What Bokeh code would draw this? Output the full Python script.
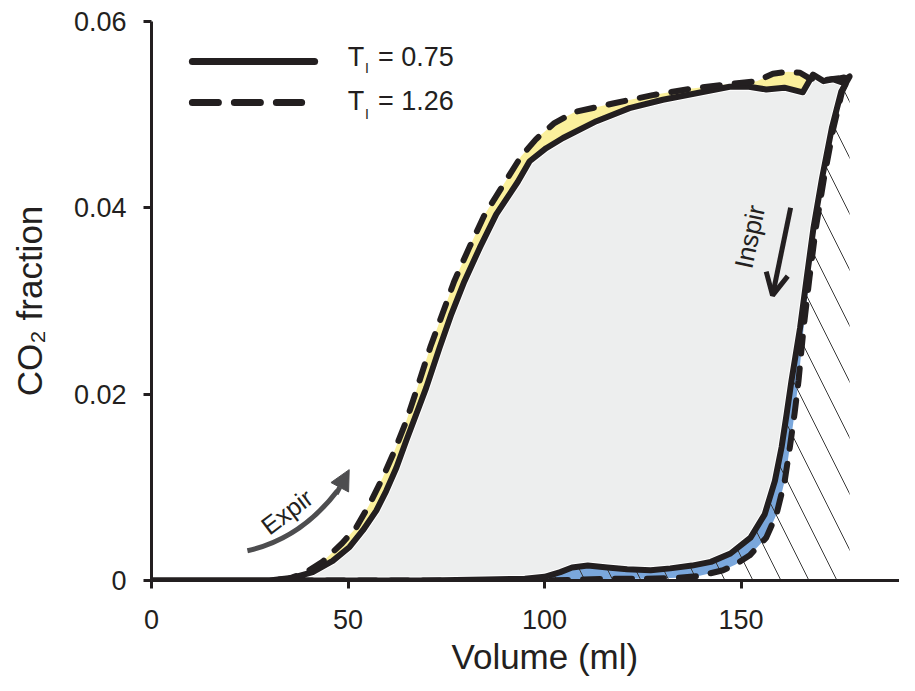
from bokeh.plotting import figure
from bokeh.models import (Range1d, FixedTicker, CustomJSTickFormatter, Label, Title,
                          Arrow, NormalHead, OpenHead)
from bokeh.embed import file_html
from bokeh.resources import INLINE

# ---------------- data ----------------
# T_I = 0.75 (solid) expiratory limb
vol_exp_075 = [0, 10, 20, 30, 36, 41, 46.1, 50.4, 53.8, 57.2, 59.7, 62.3, 64.8, 67.4, 69.9,
               73.3, 76.3, 79.6, 83.5, 87.7, 93.2, 96.2, 100.4, 104.7, 113.2, 121.6, 130.1,
               138.6, 147.1, 152, 156.4, 161, 165.7, 168.3, 171, 173.3, 175.5, 177.6]
co2_exp_075 = [0, 0, 0, 0, 0.0003, 0.0009, 0.0021, 0.0036, 0.0054, 0.0075, 0.0096, 0.0121,
               0.015, 0.0179, 0.0207, 0.025, 0.0286, 0.0321, 0.0357, 0.0393, 0.0428, 0.045,
               0.0464, 0.0475, 0.0493, 0.0507, 0.0516, 0.0523, 0.053, 0.053, 0.0527, 0.0529,
               0.0524, 0.0543, 0.0536, 0.0538, 0.0535, 0.0541]
# T_I = 0.75 (solid) inspiratory limb
vol_insp_075 = [177.6, 175.5, 173.1, 170.6, 168.4, 166.7, 165, 162.8, 161.6, 160.3, 158.6,
                156, 152.4, 147.3, 142.3, 137.5, 132, 127, 121, 116, 111, 107, 104, 100,
                95, 85, 70, 50, 30, 0]
co2_insp_075 = [0.0541, 0.0525, 0.0486, 0.0432, 0.0378, 0.0325, 0.0271, 0.0214, 0.0179,
                0.0143, 0.0107, 0.0071, 0.0046, 0.0029, 0.002, 0.0016, 0.0013, 0.0011,
                0.0012, 0.0014, 0.0016, 0.0014, 0.0009, 0.0004, 0.0002, 0.0001, 0, 0, 0, 0]
# T_I = 1.26 (dashed) expiratory limb
vol_exp_126 = [0, 10, 20, 30, 35, 39, 43.5, 48.5, 52.1, 55.5, 58.9, 61.8, 64.8, 67.4, 70.9,
               74.0, 77.0, 80.8, 84.8, 90.0, 94.0, 97.9, 102.5, 107.8, 117.4, 127.5, 137.5,
               147.1, 154, 158.1, 162, 165, 167.4, 171, 175, 177.6]
co2_exp_126 = [0, 0, 0, 0, 0.0002, 0.0008, 0.002, 0.004, 0.0057, 0.0082, 0.0111, 0.0139,
               0.0171, 0.0204, 0.025, 0.0286, 0.0321, 0.0357, 0.0393, 0.0428, 0.0455,
               0.0474, 0.0491, 0.0503, 0.0512, 0.0521, 0.0528, 0.0533, 0.0536, 0.0544,
               0.0546, 0.0545, 0.0539, 0.0537, 0.0539, 0.0541]
# T_I = 1.26 (dashed) inspiratory limb
vol_insp_126 = [177.6, 175.7, 173.5, 171.1, 169, 167.4, 165.9, 164.6, 163.6, 162.4, 161.1,
                159, 156.4, 152.2, 148.5, 145.4, 139.5, 134, 126, 118, 110, 100, 80, 60,
                40, 20, 0]
co2_insp_126 = [0.0541, 0.0525, 0.0486, 0.0432, 0.0378, 0.0325, 0.0271, 0.0214, 0.0179,
                0.0143, 0.0107, 0.0071, 0.0046, 0.0027, 0.0017, 0.0011, 0.0005, 0.0003,
                0.0002, 0.0002, 0.0001, 0, 0, 0, 0, 0, 0]

x_ticks = [0, 50, 100, 150]
y_ticks = [0, 0.02, 0.04, 0.06]
series_labels = ["0.75", "1.26"]

BLACK = "#231f20"
GRAY_FILL = "#edeeee"
YELLOW = "#fbf09c"
BLUE = "#7aa7dc"
ARROW_GRAY = "#4d4d4f"
FONT = "Liberation Sans"

# ---------------- figure ----------------
p = figure(width=899, height=684, x_range=Range1d(0, 190.3), y_range=Range1d(0, 0.06),
           output_backend="svg", toolbar_location=None,
           min_border_left=151, min_border_right=0, min_border_top=21, min_border_bottom=104)
p.outline_line_color = None
p.grid.visible = False
p.background_fill_color = "white"
p.border_fill_color = "white"

# loops
solid_x = vol_exp_075 + vol_insp_075[1:]
solid_y = co2_exp_075 + co2_insp_075[1:]
dashed_x = vol_exp_126 + vol_insp_126[1:]
dashed_y = co2_exp_126 + co2_insp_126[1:]

# gray area enclosed by the T_I = 0.75 loop
p.patch(solid_x, solid_y, fill_color=GRAY_FILL, line_color="white", line_width=8,
        line_join="round")
# yellow: between the two expiratory limbs
p.patch(vol_exp_126 + vol_exp_075[::-1], co2_exp_126 + co2_exp_075[::-1],
        fill_color=YELLOW, line_color=None)
# blue: between the two inspiratory limbs
p.patch(vol_insp_075 + vol_insp_126[::-1], co2_insp_075 + co2_insp_126[::-1],
        fill_color=BLUE, line_color=None)
# hatched: right of the inspiratory limb up to the end volume
hx = [v for v, c in zip(vol_insp_075, co2_insp_075) if v >= 100]
hy = [c for v, c in zip(vol_insp_075, co2_insp_075) if v >= 100]
hx = hx + [hx[-1], max(vol_exp_075)]
hy = hy + [0, 0]
p.patch(hx, hy, fill_color=None, line_color=None, hatch_pattern="\\",
        hatch_color="#3a3a3a", hatch_weight=1, hatch_scale=56)

# curves
p.line(solid_x, solid_y, line_color=BLACK, line_width=6, line_join="round",
       line_cap="round")
p.line(dashed_x, dashed_y, line_color=BLACK, line_width=6, line_join="round",
       line_cap="round", line_dash="17 15")

# ---------------- legend (hand drawn) ----------------
p.line([10.4, 41.5], [0.0557, 0.0557], line_color=BLACK, line_width=7, line_cap="round")
p.line([10.4, 38.2], [0.0513, 0.0513], line_color=BLACK, line_width=7, line_cap="round",
       line_dash="26 16")
for lab, yc, ys in zip(series_labels, [0.05624, 0.05142], [0.05499, 0.0501]):
    p.add_layout(Label(x=49.9, y=yc, text="T", text_font=FONT, text_font_size="27px",
                       text_color=BLACK, text_baseline="middle"))
    p.add_layout(Label(x=54.3, y=ys, text="I", text_font=FONT,
                       text_font_size="14px", text_color=BLACK, text_baseline="middle"))
    p.add_layout(Label(x=57.6, y=yc, text="= " + lab, text_font=FONT,
                       text_font_size="27px", text_color=BLACK, text_baseline="middle"))

# ---------------- annotations ----------------
p.quadratic(x0=[24.4], y0=[0.0032], x1=[47.3], y1=[0.00964], cx=[37.9], cy=[0.00445],
            line_color=ARROW_GRAY, line_width=5)
p.add_layout(Arrow(end=NormalHead(size=20, fill_color=ARROW_GRAY, line_color=ARROW_GRAY,
                                  line_width=1),
                   x_start=47.0, y_start=0.0093, x_end=50.3, y_end=0.0119,
                   line_color=ARROW_GRAY, line_width=5))
p.add_layout(Label(x=34.4, y=0.00739, text="Expir", text_font=FONT, text_font_size="25px",
                   text_color=BLACK, text_align="center", text_baseline="middle",
                   angle=0.646))

p.add_layout(Arrow(end=OpenHead(size=22, line_color=BLACK, line_width=5),
                   x_start=162.6, y_start=0.0400, x_end=158.0, y_end=0.0306,
                   line_color=BLACK, line_width=5))
p.add_layout(Label(x=152.2, y=0.0369, text="Inspir", text_font=FONT, text_font_size="26px",
                   text_color=BLACK, text_align="center", text_baseline="middle",
                   angle=1.36))

# x axis title as a title below the axis, placed where the reference has it
p.add_layout(Title(text="Volume (ml)", align="left", offset=300, standoff=6,
                   text_font=FONT, text_font_size="35px", text_font_style="normal",
                   text_color=BLACK), "below")

# ---------------- axes ----------------
for ax in (p.xaxis[0], p.yaxis[0]):
    ax.axis_line_color = BLACK
    ax.axis_line_width = 3
    ax.major_tick_line_color = BLACK
    ax.major_tick_line_width = 3
    ax.major_tick_out = 8
    ax.major_tick_in = 0
    ax.minor_tick_line_color = None
    ax.major_label_text_font = FONT
    ax.major_label_text_font_size = "27px"
    ax.major_label_text_color = BLACK
    ax.axis_label_text_font = FONT
    ax.axis_label_text_font_size = "35px"
    ax.axis_label_text_font_style = "normal"
    ax.axis_label_text_color = BLACK

p.xaxis.ticker = FixedTicker(ticks=x_ticks)
p.yaxis.ticker = FixedTicker(ticks=y_ticks)
p.yaxis.formatter = CustomJSTickFormatter(code="return tick == 0 ? '0' : tick.toFixed(2);")
p.yaxis.axis_label = "CO₂ fraction"
p.xaxis.major_label_standoff = 21
p.yaxis.major_label_standoff = 17
p.yaxis.axis_label_standoff = 22

open("out.html", "w").write(file_html(p, INLINE))
